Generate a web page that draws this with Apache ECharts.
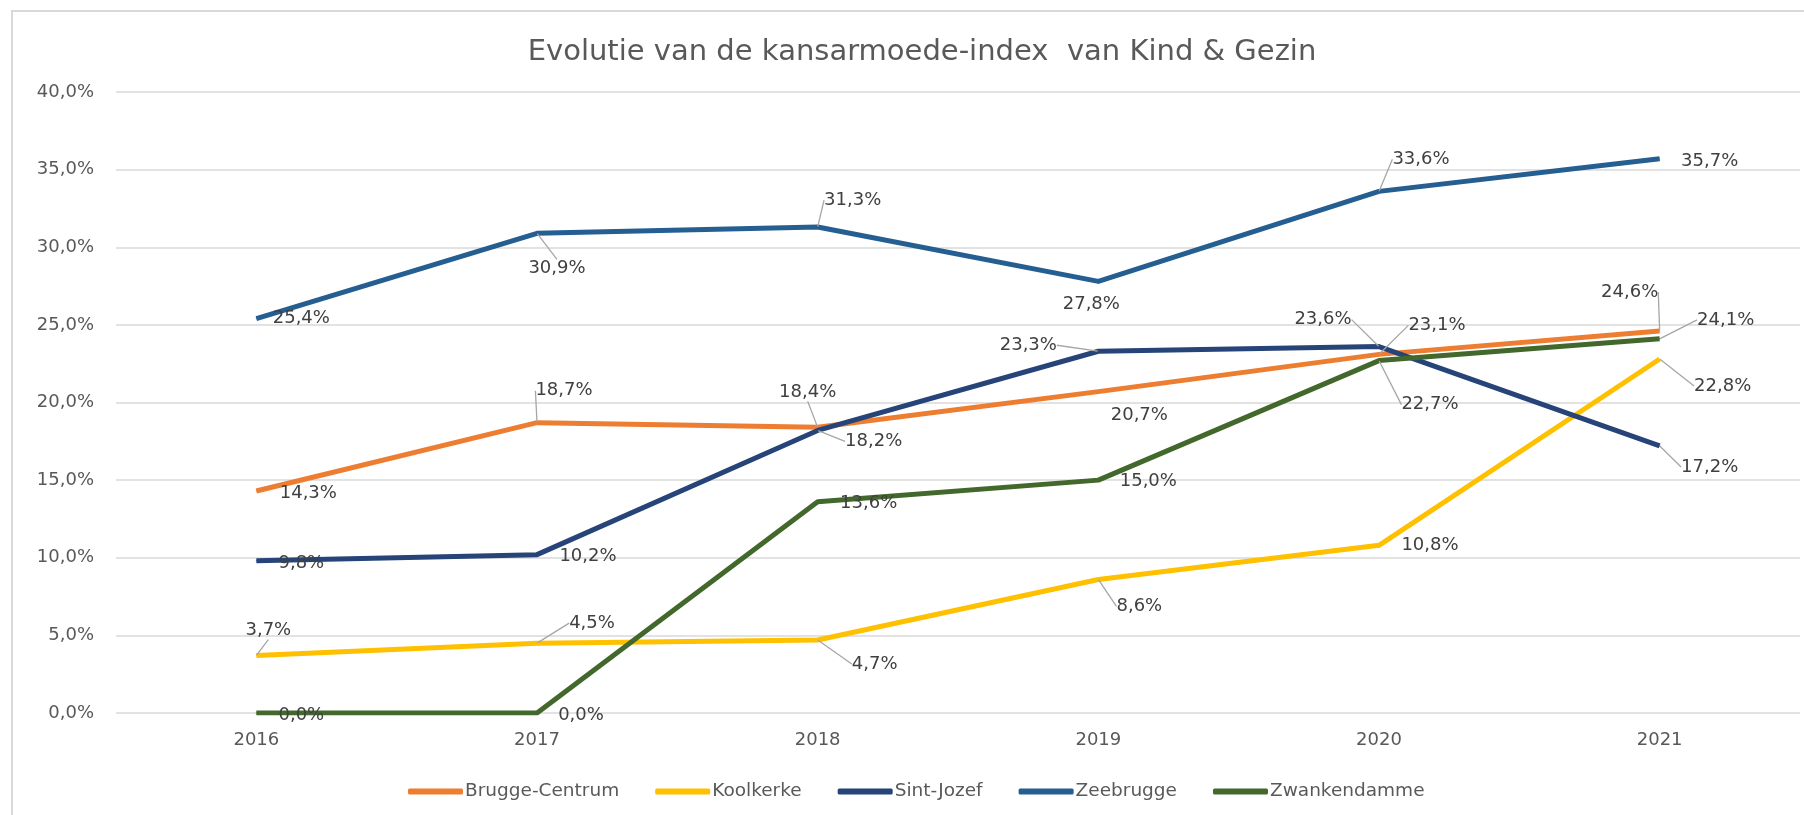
<!DOCTYPE html>
<html>
<head>
<meta charset="utf-8">
<title>Evolutie van de kansarmoede-index</title>
<script src="https://cdn.jsdelivr.net/npm/echarts@6/dist/echarts.min.js"></script>
<style>
  html, body { margin: 0; padding: 0; background: #fff; }
  #main { width: 1804px; height: 815px; }
</style>
</head>
<body>
<div id="main"></div>
<script>
  // jaren op de x-as
  var years = ['2016', '2017', '2018', '2019', '2020', '2021'];

  // waarden in procent
  var bruggeCentrum = [14.3, 18.7, 18.4, 20.7, 23.1, 24.6];
  var koolkerke     = [3.7, 4.5, 4.7, 8.6, 10.8, 22.8];
  var sintJozef     = [9.8, 10.2, 18.2, 23.3, 23.6, 17.2];
  var zeebrugge     = [25.4, 30.9, 31.3, 27.8, 33.6, 35.7];
  var zwankendamme  = [0.0, 0.0, 13.6, 15.0, 22.7, 24.1];

  var names  = ['Brugge-Centrum', 'Koolkerke', 'Sint-Jozef', 'Zeebrugge', 'Zwankendamme'];
  var values = [bruggeCentrum, koolkerke, sintJozef, zeebrugge, zwankendamme];
  var colors = ['#ED7D31', '#FFC000', '#264478', '#255E91', '#43682B'];

  // verschuiving van elk label t.o.v. het punt: [dx, dy, leader-lijn]
  var labelShift = [
    [[52, 2, 0], [27, -32, 1], [-10, -35, 1], [41, 24, 0], [58, -29, 1], [-30, -39, 1]],
    [[12, -25, 1], [55, -20, 1], [57, 24, 1], [41, 27, 1], [51, 0, 0], [63, 27, 1]],
    [[45, 2, 0], [51, 2, 0], [56, 11, 1], [-70, -6, 1], [-56, -27, 1], [50, 21, 1]],
    [[45, 0, 0], [20, 35, 1], [35, -27, 1], [-7, 23, 0], [42, -32, 1], [50, 3, 0]],
    [[45, 2, 0], [44, 2, 0], [51, 1, 0], [50, 1, 0], [51, 44, 1], [66, -19, 1]]
  ];

  var fontFam = '"DejaVu Sans", sans-serif';

  function pct(v) {
    return v.toFixed(1).replace('.', ',') + '%';
  }

  var series = [];
  for (var s = 0; s < names.length; s++) {
    (function (s) {
      series.push({
        name: names[s],
        type: 'line',
        data: values[s].map(function (v, i) {
          return {
            value: v,
            labelLine: { show: labelShift[s][i][2] === 1 }
          };
        }),
        symbol: 'circle',
        symbolSize: 1,
        showSymbol: true,
        itemStyle: { color: colors[s] },
        lineStyle: { color: colors[s], width: 5, join: 'round' },
        label: {
          show: true,
          position: 'inside',
          color: '#404040',
          fontSize: 18,
          fontFamily: fontFam,
          formatter: function (p) { return pct(p.value); }
        },
        labelLine: {
          show: true,
          length2: 0,
          lineStyle: { color: '#A6A6A6', width: 1.3 }
        },
        labelLayout: function (p) {
          var sh = labelShift[s][p.dataIndex];
          return { dx: sh[0], dy: sh[1] };
        },
        emphasis: { disabled: true }
      });
    })(s);
  }

  var myChart = echarts.init(document.getElementById('main'));
  var option = {
    animation: false,
    color: colors,
    title: {
      text: 'Evolutie van de kansarmoede-index  van Kind & Gezin',
      left: 917,
      top: 33,
      textAlign: 'center',
      textStyle: {
        color: '#595959',
        fontSize: 29,
        fontWeight: 'normal',
        fontFamily: fontFam
      }
    },
    graphic: [{
      type: 'rect',
      shape: { x: 12, y: 11, width: 1900, height: 900 },
      style: { fill: 'none', stroke: '#D9D9D9', lineWidth: 2 },
      silent: true,
      z: -1
    }],
    legend: {
      data: names,
      left: 403,
      top: 777,
      icon: 'roundRect',
      itemWidth: 55,
      itemHeight: 6,
      itemGap: 36,
      textStyle: {
        color: '#595959',
        fontSize: 18.5,
        fontFamily: fontFam,
        padding: [0, 0, 0, -3]
      }
    },
    grid: {
      left: 116,
      right: 4,
      top: 92,
      bottom: 102
    },
    xAxis: {
      type: 'category',
      data: years,
      boundaryGap: true,
      axisLine: { show: false },
      axisTick: { show: false },
      axisLabel: {
        color: '#595959',
        fontSize: 18,
        fontFamily: fontFam,
        margin: 18
      }
    },
    yAxis: {
      type: 'value',
      min: 0,
      max: 40,
      interval: 5,
      axisLine: { show: false },
      axisTick: { show: false },
      splitLine: { lineStyle: { color: '#D9D9D9', width: 1.5 } },
      axisLabel: {
        color: '#595959',
        fontSize: 18,
        fontFamily: fontFam,
        margin: 22,
        formatter: function (v) { return pct(v); }
      }
    },
    series: series
  };
  myChart.setOption(option);
  window.addEventListener('resize', function () { myChart.resize(); });
</script>
</body>
</html>
